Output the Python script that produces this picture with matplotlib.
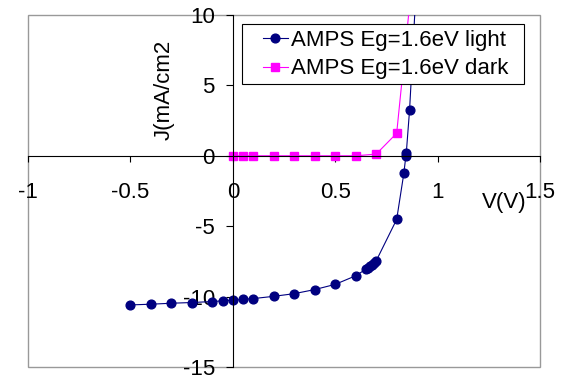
import matplotlib
matplotlib.use('Agg')
import matplotlib.pyplot as plt
from matplotlib.patches import Rectangle

plt.rcParams['font.family'] = ['Liberation Sans', 'DejaVu Sans']
plt.rcParams['axes.unicode_minus'] = False

# data
v_light = [-0.5, -0.4, -0.3, -0.2, -0.1, -0.05, 0, 0.05, 0.1, 0.2, 0.3, 0.4, 0.5, 0.6,
           0.65, 0.66, 0.67, 0.68, 0.69, 0.7, 0.8, 0.835, 0.845, 0.847, 0.863, 0.9]
j_light = [-10.59, -10.54, -10.47, -10.42, -10.35, -10.3, -10.26, -10.2, -10.14, -9.98,
           -9.79, -9.5, -9.13, -8.52, -8.05, -7.95, -7.85, -7.75, -7.6, -7.46, -4.52,
           -1.25, 0.0, 0.2, 3.25, 13.2]
v_dark = [0, 0.05, 0.1, 0.2, 0.3, 0.4, 0.5, 0.6, 0.7, 0.8, 0.9]
j_dark = [0, 0, 0, 0, 0, 0, 0, 0, 0.12, 1.6, 16]

xticks = [-1, -0.5, 0, 0.5, 1, 1.5]
xticklabels = ['-1', '-0.5', '0', '0.5', '1', '1.5']
yticks = [-15, -10, -5, 0, 5, 10]
yticklabels = ['-15', '-10', '-5', '0', '5', '10']

fs = 16

fig = plt.figure(figsize=(5.61, 3.81), dpi=100)
ax = fig.add_axes([0.05, 0.0367, 0.9126, 0.924])

ax.plot(v_light, j_light, '-o', color='#000080', lw=0.8, ms=6.3,
        label='AMPS Eg=1.6eV light')
ax.plot(v_dark, j_dark, '-s', color='#FF00FF', lw=0.8, ms=6.3,
        label='AMPS Eg=1.6eV dark')

ax.set_xlim(-1, 1.5)
ax.set_ylim(-15, 10)

# axes crossing at origin
ax.spines['left'].set_position(('data', 0))
ax.spines['bottom'].set_position(('data', 0))
ax.spines['right'].set_visible(False)
ax.spines['top'].set_visible(False)
for s in ['left', 'bottom']:
    ax.spines[s].set_color('black')
    ax.spines[s].set_linewidth(0.8)

# gray frame around plot area
ax.add_patch(Rectangle((0, 0), 1, 1, transform=ax.transAxes, fill=False,
                       edgecolor='#999999', lw=1, clip_on=False, zorder=0))

ax.set_xticks(xticks)
ax.set_xticklabels(xticklabels)
ax.set_yticks(yticks)
ax.set_yticklabels(yticklabels)
ax.tick_params(axis='x', direction='out', length=4, width=0.8, pad=15, labelsize=fs)
ax.tick_params(axis='y', direction='out', length=5, width=0.8, pad=8, labelsize=fs)

ax.text(-0.335, 4.7, 'J(mA/cm2', rotation=90, ha='center', va='center', fontsize=fs)
ax.text(1.325, -3.33, 'V(V)', ha='center', va='center', fontsize=fs)

# legend box (Excel style: wide side padding)
ax.add_patch(Rectangle((0.418, 0.804), 0.551, 0.170, transform=ax.transAxes,
                       facecolor='white', edgecolor='black', lw=0.8, zorder=4.5))
leg = ax.legend(loc='center left', bbox_to_anchor=(0.459, 0.887), borderaxespad=0,
                borderpad=0, frameon=False, fontsize=fs,
                handlelength=1.12, handletextpad=0.15, labelspacing=0.32)
leg.set_zorder(5)

plt.savefig('out.png', dpi=100)
